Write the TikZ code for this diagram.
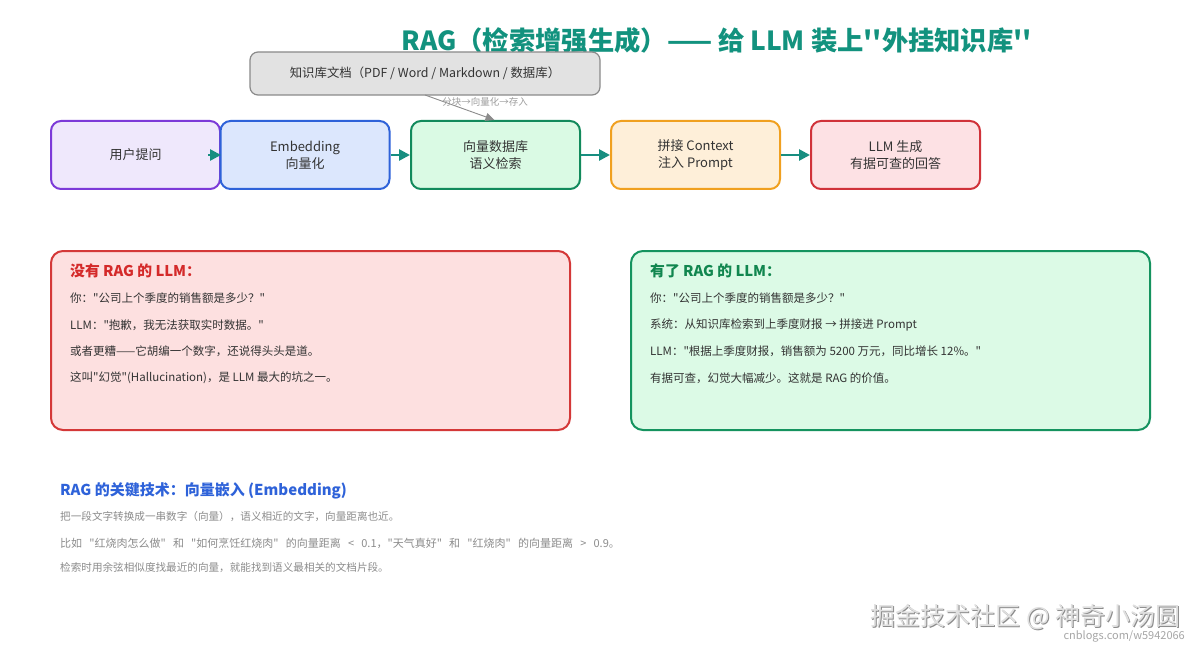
\documentclass[tikz,border=0pt]{standalone}
\usepackage{fontspec}
\setmainfont{Noto Sans CJK SC}[Ligatures=TeXOff]
\usetikzlibrary{arrows.meta}
\definecolor{titleteal}{HTML}{12927E}
\definecolor{arrteal}{HTML}{178E80}
\definecolor{pbd}{HTML}{7C3AD8}\definecolor{pfl}{HTML}{EFE8FC}
\definecolor{bbd}{HTML}{2E62D9}\definecolor{bfl}{HTML}{DCE7FD}
\definecolor{gbd}{HTML}{128A5C}\definecolor{gfl}{HTML}{DAFAE4}
\definecolor{obd}{HTML}{F0A020}\definecolor{ofl}{HTML}{FEEFD9}
\definecolor{rbd}{HTML}{D0323A}\definecolor{rfl}{HTML}{FDE1E4}
\definecolor{lpfl}{HTML}{FDE0E0}\definecolor{lpbd}{HTML}{D43838}
\definecolor{rpfl}{HTML}{DCFAE6}\definecolor{rpbd}{HTML}{15935F}
\definecolor{kbfl}{HTML}{E2E2E2}\definecolor{kbbd}{HTML}{8A8A8A}
\definecolor{txt}{HTML}{333333}
\definecolor{subtxt}{HTML}{8C8C8C}
\definecolor{keyblue}{HTML}{2E62D9}
\definecolor{redtitle}{HTML}{D42A2A}
\definecolor{greentitle}{HTML}{11864F}
\tikzset{
  flowbox/.style={draw, line width=2pt, rounded corners=10pt, minimum width=169pt, minimum height=68pt,
    align=center, text=txt, font=\fontsize{13}{17}\selectfont, inner sep=0pt},
  arr/.style={draw=arrteal, line width=2.6pt, -{Triangle[length=11pt,width=11pt]}},
  panel/.style={draw, line width=2pt, rounded corners=12pt, minimum width=519pt, minimum height=179pt, inner sep=0pt},
  ptitle/.style={anchor=west, font=\bfseries\fontsize{14.8}{16}\selectfont, inner sep=0pt},
  pline/.style={anchor=west, text=txt, font=\fontsize{11.5}{14}\selectfont, inner sep=0pt},
  bline/.style={anchor=west, text=subtxt, font=\fontsize{10.6}{13}\selectfont, inner sep=0pt},
}
\begin{document}
\begin{tikzpicture}[x=1pt,y=-1pt]
\useasboundingbox[fill=white] (0,0) rectangle (1200,650);
% title
\node[text=titleteal, font=\bfseries\fontsize{26.3}{30}\selectfont, inner sep=0pt] (title) at (717,40)
  {RAG（检索增强生成）—— 给 LLM 装上''外挂知识库''};
% knowledge base
\node[draw=kbbd, fill=kbfl, line width=1.2pt, rounded corners=8pt, minimum width=350pt, minimum height=43pt,
  text=txt, font=\fontsize{12.4}{14}\selectfont, inner sep=0pt] (kb) at (425,73.5)
  {知识库文档（PDF / Word / Markdown / 数据库）};
% flow boxes
\node[flowbox, draw=pbd, fill=pfl] (q) at (135.5,155) {用户提问};
\node[flowbox, draw=bbd, fill=bfl] (emb) at (305,155) {Embedding\\向量化};
\node[flowbox, draw=gbd, fill=gfl] (vdb) at (495.5,155) {向量数据库\\语义检索};
\node[flowbox, draw=obd, fill=ofl] (ctx) at (695.5,155) {拼接 Context\\注入 Prompt};
\node[flowbox, draw=rbd, fill=rfl] (gen) at (895.5,155) {LLM 生成\\有据可查的回答};
% arrows
\draw[arr] ([xshift=-13pt]q.east) -- (q.east);
\draw[arr] (emb.east) -- (vdb.west);
\draw[arr] (vdb.east) -- (ctx.west);
\draw[arr] (ctx.east) -- (gen.west);
\coordinate (kbout) at (425,95);
\draw[draw=subtxt, line width=0.9pt, -{Triangle[length=9pt,width=8pt]}] (kbout) -- ([xshift=-1pt]vdb.north);
\node[text=subtxt!85, font=\fontsize{9.5}{11}\selectfont, inner sep=0pt] (kblab) at (485,102) {分块→向量化→存入};
% panels
\node[panel, draw=lpbd, fill=lpfl] (left) at (310.5,340.5) {};
\node[panel, draw=rpbd, fill=rpfl] (right) at (890.5,340.5) {};
\node[ptitle, text=redtitle] (lt) at (70,271) {没有 RAG 的 LLM：};
\node[pline] (l1) at (70,298) {你："公司上个季度的销售额是多少？"};
\node[pline] (l2) at (70,325) {LLM："抱歉，我无法获取实时数据。"};
\node[pline] (l3) at (70,351) {或者更糟——它胡编一个数字，还说得头头是道。};
\node[pline] (l4) at (70,378) {这叫"幻觉"(Hallucination)，是 LLM 最大的坑之一。};
\node[ptitle, text=greentitle] (rt) at (650,271) {有了 RAG 的 LLM：};
\node[pline] (r1) at (650,298) {你："公司上个季度的销售额是多少？"};
\node[pline] (r2) at (650,325) {系统：从知识库检索到上季度财报 → 拼接进 Prompt};
\node[pline] (r3) at (650,351) {LLM："根据上季度财报，销售额为 5200 万元，同比增长 12\%。"};
\node[pline] (r4) at (650,378) {有据可查，幻觉大幅减少。这就是 RAG 的价值。};
% bottom
\node[anchor=west, text=keyblue, font=\bfseries\fontsize{15}{17}\selectfont, inner sep=0pt] (bt) at (60,491)
  {RAG 的关键技术：向量嵌入 (Embedding)};
\node[bline] (b1) at (60,517) {把一段文字转换成一串数字（向量），语义相近的文字，向量距离也近。};
\node[bline, font=\fontsize{11}{13}\selectfont] (b2) at (60,543) {\spaceskip=7.2pt\relax 比如 "红烧肉怎么做" 和 "如何烹饪红烧肉" 的向量距离 < 0.1，"天气真好" 和 "红烧肉" 的向量距离 > 0.9。};
\node[bline] (b3) at (60,568) {检索时用余弦相似度找最近的向量，就能找到语义最相关的文档片段。};
% watermark
\node[anchor=east, text=black!45, font=\fontsize{25}{27}\selectfont, inner sep=0pt] (wm0) at (1182,618) {掘金技术社区 @ 神奇小汤圆};
\node[anchor=east, text=black!12, font=\fontsize{25}{27}\selectfont, inner sep=0pt] (wm) at (1181,617) {掘金技术社区 @ 神奇小汤圆};
\node[anchor=east, text=black!35, font=\fontsize{11}{13}\selectfont, inner sep=0pt] (wm2) at (1185,636) {cnblogs.com/w5942066};
\end{tikzpicture}
\end{document}
